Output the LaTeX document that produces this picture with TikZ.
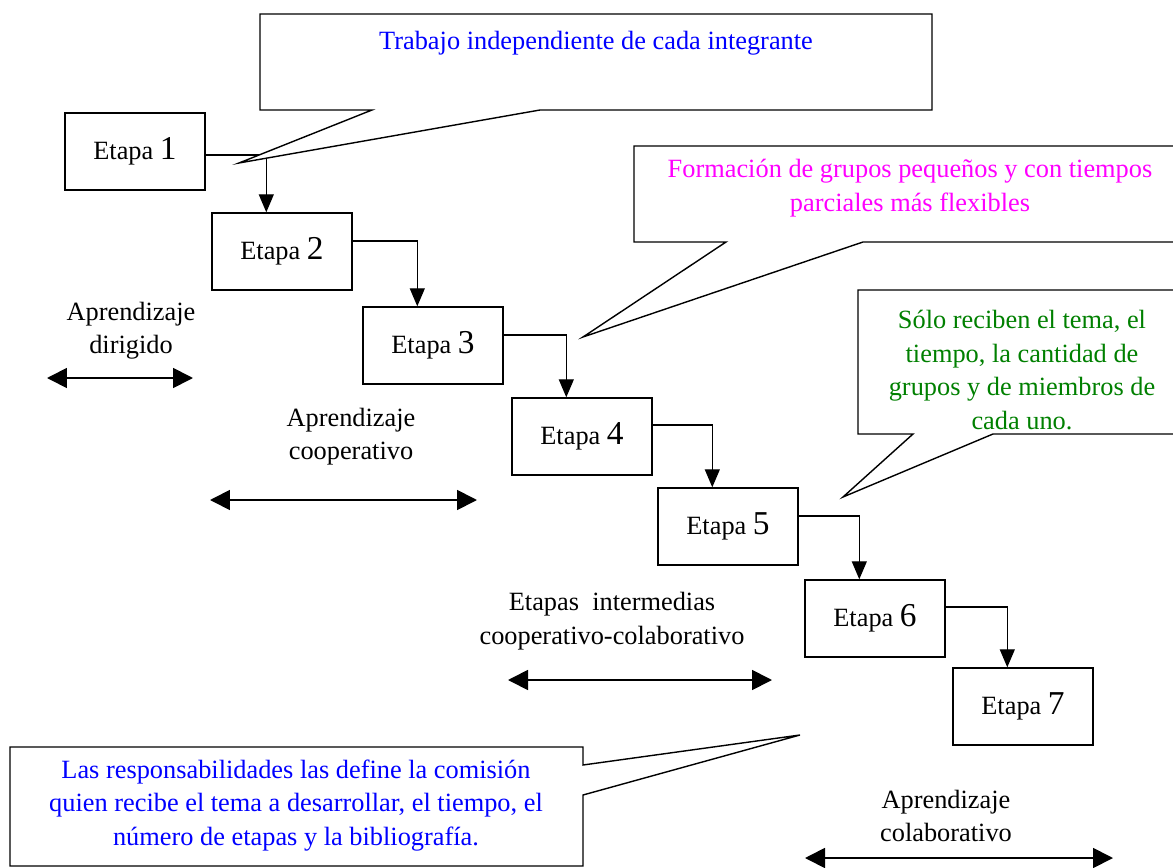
\documentclass[tikz,border=0pt]{standalone}
\usepackage{fontspec}
\setmainfont{Liberation Serif}
\usetikzlibrary{arrows.meta}

\definecolor{verde}{RGB}{0,128,0}
\definecolor{rosa}{RGB}{255,0,255}
\definecolor{azul}{RGB}{0,0,255}

\tikzset{
	etapa/.style={draw, line width=0.8pt, minimum width=2.8cm, minimum height=1.54cm, inner sep=0pt, font=\fontsize{15}{19}\selectfont},
	flow/.style={-{Triangle[length=0.36cm,width=0.3cm]}, line width=0.7pt},
	rango/.style={{Triangle[length=0.4cm,width=0.4cm]}-{Triangle[length=0.4cm,width=0.4cm]}, line width=1pt},
	globo/.style={draw, line width=0.8pt, fill=white},
	texto/.style={align=center, font=\fontsize{15}{19}\selectfont}
}
\newcommand{\etnum}[1]{{\fontsize{19}{19}\selectfont #1}}

\begin{document}
\begin{tikzpicture}[x=0.02cm, y=-0.02cm]
	\clip (0,0) rectangle (1173,868);
	
	% Etapas en escalera
	\node[etapa] (e1) at (135,151.5) {Etapa \etnum{1}};
	\node[etapa] (e2) at (282,251.5) {Etapa \etnum{2}};
	\node[etapa] (e3) at (433,345.5) {Etapa \etnum{3}};
	\node[etapa] (e4) at (582,436.5) {Etapa \etnum{4}};
	\node[etapa] (e5) at (728,526.5) {Etapa \etnum{5}};
	\node[etapa] (e6) at (875,618.5) {Etapa \etnum{6}};
	\node[etapa] (e7) at (1023,706.5) {Etapa \etnum{7}};
	
	\foreach \i/\j/\dy in {1/2/-0.07,2/3/0.21,3/4/0.21,4/5/0.23,5/6/0.21,6/7/0.23}
		\draw[flow] ([yshift=\dy cm]e\i.east) -| ([xshift=1.1cm]e\j.north west);
	
	% Tipos de aprendizaje
	\node[texto] (l1) at (131,331) {Aprendizaje\\dirigido};
	\coordinate (a1w) at (47,378);
	\coordinate (a1e) at (193,378);
	\draw[rango] (a1w) -- (a1e);
	
	\node[texto] (l2) at (351,436.5) {Aprendizaje\\cooperativo};
	\coordinate (a2w) at (210,500);
	\coordinate (a2e) at (477,500);
	\draw[rango] (a2w) -- (a2e);
	
	\node[texto] (l3) at (612,621) {Etapas\ \ intermedias\\cooperativo-colaborativo};
	\coordinate (a3w) at (508,680);
	\coordinate (a3e) at (772,680);
	\draw[rango] (a3w) -- (a3e);
	
	\node[texto] (l4) at (946,816) {Aprendizaje\\colaborativo};
	\coordinate (a4w) at (805,858);
	\coordinate (a4e) at (1113,858);
	\draw[rango] (a4w) -- (a4e);
	
	% Globos de comentario
	\draw[globo] (260,14) -- (932,14) -- (932,110) -- (540,110) -- (239,163) -- (372,110) -- (260,110) -- cycle;
	\node[texto, azul] (t1) at (596,43) {Trabajo independiente de cada integrante};
	
	\draw[globo] (634,146) -- (1190,146) -- (1190,242) -- (863,242) -- (583,337) -- (726,242) -- (634,242) -- cycle;
	\node[texto, rosa] (t2) at (910,188) {Formación de grupos pequeños y con tiempos\\parciales más flexibles};
	
	\draw[globo] (858,290) -- (1190,290) -- (1190,434) -- (993,434) -- (843,497) -- (913,434) -- (858,434) -- cycle;
	\node[texto, verde] (t3) at (1022,370) {Sólo reciben el tema, el\\tiempo, la cantidad de\\grupos y de miembros de\\cada uno.};
	
	\draw[globo] (10,747) -- (583,747) -- (583,765) -- (800,735) -- (583,795) -- (583,866) -- (10,866) -- cycle;
	\node[texto, azul] (t4) at (296,805.5) {Las responsabilidades las define la comisión\\quien recibe el tema a desarrollar, el tiempo, el\\número de etapas y la bibliografía.};
\end{tikzpicture}
\end{document}
